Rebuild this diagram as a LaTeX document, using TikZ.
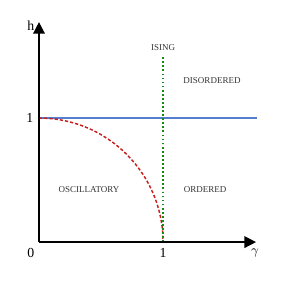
\documentclass[tikz,border=0pt]{standalone}
\usepackage{fontspec}
\setmainfont{Liberation Serif}
\usetikzlibrary{arrows.meta, positioning, calc}
\definecolor{phBlue}{RGB}{85,125,205}
\definecolor{phRed}{RGB}{200,30,30}
\definecolor{phGreen}{RGB}{20,140,20}
\begin{document}
\begin{tikzpicture}[
    x=3cm, y=3cm,
    axis/.style={-{Triangle[length=8pt, width=8pt]}, line width=1pt, draw=black},
    regionlabel/.style={font=\fontsize{6.2}{7}\selectfont, text=black!80, inner sep=0pt},
    ticklabel/.style={font=\fontsize{9.5}{10}\selectfont, inner sep=0pt},
    fieldline/.style={draw=phBlue, line width=1pt},
    oscline/.style={draw=phRed, line width=1pt, dash pattern=on 2.2pt off 1.4pt},
    isingline/.style={draw=phGreen, line width=1.3pt, dash pattern=on 1.2pt off 1.6pt}
]
\useasboundingbox (-0.3145,-0.3226) rectangle (2.032,1.952);

% Coordinates of the diagram
\coordinate (origin) at (0,0);
\coordinate (gamma_end) at (1.75,0);
\coordinate (h_end) at (0,1.774);
\coordinate (h_one) at (0,1);
\coordinate (g_one) at (1,0);
\coordinate (field_end) at (1.758,1);
\coordinate (ising_top) at (1,1.508);

% Phase boundaries
\draw [fieldline] (h_one) -- (field_end);
\draw [oscline] (h_one) arc[start angle=90, end angle=0, radius=1];
\draw [isingline] (g_one) -- (ising_top);

% Axes
\draw [axis] (origin) -- (gamma_end);
\draw [axis] (origin) -- (h_end);

% Axis labels
\node (lbl_h) [ticklabel] at (-0.065,1.742) {h};
\node (lbl_hone) [ticklabel] at (-0.073,1) {1};
\node (lbl_zero) [ticklabel] at (-0.065,-0.085) {0};
\node (lbl_gone) [ticklabel] at (1,-0.09) {1};
\node (lbl_gamma) [ticklabel] at (1.742,-0.089) {$\gamma$};

% Region labels
\node (ising) [regionlabel] at (1,1.565) {ISING};
\node (disordered) [regionlabel] at (1.395,1.306) {DISORDERED};
\node (oscillatory) [regionlabel] at (0.403,0.427) {OSCILLATORY};
\node (ordered) [regionlabel] at (1.339,0.427) {ORDERED};

\end{tikzpicture}
\end{document}
